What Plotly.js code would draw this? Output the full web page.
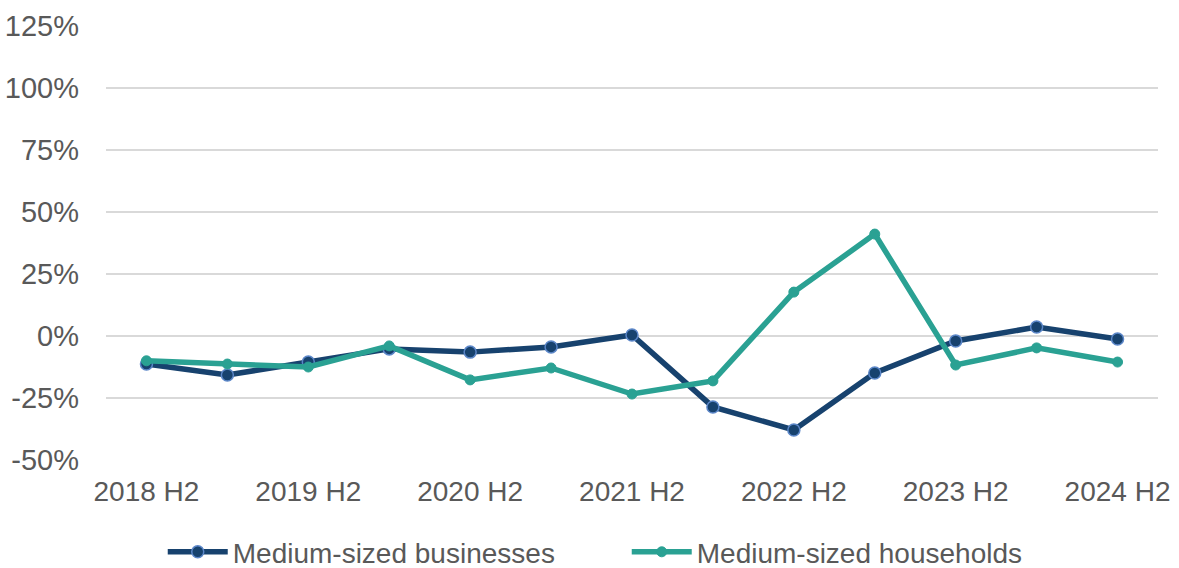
<!DOCTYPE html>
<html>
<head>
<meta charset="utf-8">
<script src="https://cdn.plot.ly/plotly-3.0.1.min.js"></script>
<style>html,body{margin:0;padding:0;background:#fff;}#chart{width:1179px;height:568px;}</style>
</head>
<body>
<div id="chart"></div>
<script>
const categories = ["2018 H2","2019 H1","2019 H2","2020 H1","2020 H2","2021 H1","2021 H2","2022 H1","2022 H2","2023 H1","2023 H2","2024 H1","2024 H2"];
const businesses = [-11.3, -15.7, -10.5, -5.2, -6.5, -4.4, 0.4, -28.6, -37.9, -14.9, -2.0, 3.6, -1.2];
const households = [-10.0, -11.3, -12.5, -4.0, -17.7, -12.9, -23.4, -18.1, 17.7, 41.1, -11.7, -4.8, -10.5];
const tickLabels = ["2018 H2","2019 H2","2020 H2","2021 H2","2022 H2","2023 H2","2024 H2"];
const yTicks = [-50, -25, 0, 25, 50, 75, 100, 125];

const navy = "#17426E";
const teal = "#2AA193";

const traces = [
  {
    x: categories, y: businesses, name: "Medium-sized businesses",
    type: "scatter", mode: "lines+markers",
    line: {color: navy, width: 5.5},
    marker: {color: navy, size: 12, line: {color: "#5B86C8", width: 1.5}}
  },
  {
    x: categories, y: households, name: "Medium-sized households",
    type: "scatter", mode: "lines+markers",
    line: {color: teal, width: 5.5},
    marker: {color: teal, size: 10, line: {color: teal, width: 1}}
  }
];

const layout = {
  width: 1179, height: 568,
  margin: {l: 106, r: 21, t: 26, b: 108, autoexpand: false},
  paper_bgcolor: "#fff", plot_bgcolor: "#fff",
  font: {family: "Liberation Sans, Arial, sans-serif", color: "#595959", size: 28},
  xaxis: {
    type: "category",
    range: [-0.5, 12.5],
    tickvals: tickLabels,
    ticktext: tickLabels,
    showgrid: false, zeroline: false, showline: false,
    ticks: "", ticklabelstandoff: 12,
    automargin: false,
    tickfont: {size: 28, color: "#595959"}
  },
  yaxis: {
    range: [-50, 125],
    tickvals: yTicks,
    ticktext: yTicks.map(v => v + "%"),
    showgrid: true, gridcolor: "#D9D9D9", gridwidth: 2,
    zeroline: false, showline: false, ticks: "",
    ticklabelstandoff: 26,
    automargin: false,
    tickfont: {size: 29, color: "#595959"}
  },
  showlegend: true,
  legend: {
    orientation: "h",
    x: 0.495, xanchor: "center",
    yref: "container",
    y: 0.028, yanchor: "middle",
    font: {size: 28, color: "#595959"},
    entrywidth: 389,
    itemwidth: 60,
    traceorder: "normal"
  }
};

Plotly.newPlot("chart", traces, layout, {displayModeBar: false, staticPlot: true});
</script>
</body>
</html>
